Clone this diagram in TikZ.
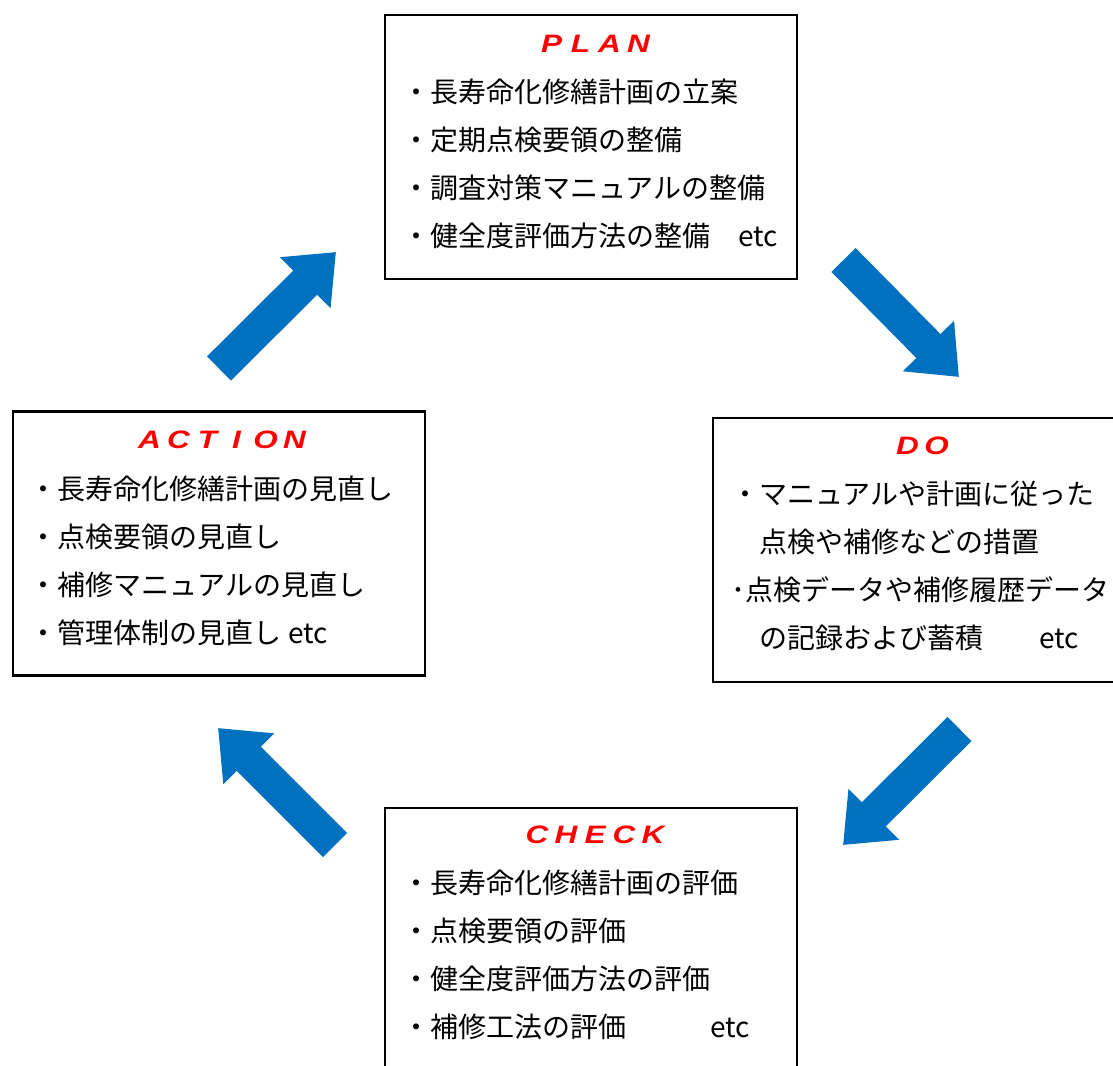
\documentclass[tikz,border=0pt]{standalone}
\usepackage{fontspec}
\setmainfont{Noto Sans CJK JP}
\newfontfamily\titlefont{Liberation Sans}
\usetikzlibrary{arrows.meta}
\definecolor{arrowblue}{RGB}{0,112,192}
\newcommand{\spletter}[1]{\makebox[14.5pt]{\scalebox{1.25}[1]{#1}}}
\tikzset{
  box/.style={draw, line width=1.25pt, minimum width=206pt, minimum height=132pt, inner sep=0pt},
  phase/.style={text=red, inner sep=0pt, font=\titlefont\bfseries\itshape\fontsize{12.6pt}{14pt}\selectfont},
  items/.style={anchor=north west, align=left, inner sep=0pt, font=\fontsize{14pt}{24pt}\selectfont},
  bigarrow/.style={arrowblue, line width=17pt, -{Triangle[length=21.75pt,width=34.5pt]}}
}
\begin{document}
\begin{tikzpicture}[x=0.5pt,y=-0.5pt]
    \clip (0,0) rectangle (1113,1065);

    % the four boxes
    \node[box] (plan)   at (591,147)   {};
    \node[box] (do)     at (919,550)   {};
    \node[box] (check)  at (591,940)   {};
    \node[box] (action) at (219,543.5) {};

    \node[phase] (plantitle)   at (595,44)  {\spletter{P}\spletter{L}\spletter{A}\spletter{N}};
    \node[phase] (dotitle)     at (922,446) {\spletter{D}\spletter{O}};
    \node[phase] (checktitle)  at (595,835) {\spletter{C}\spletter{H}\spletter{E}\spletter{C}\spletter{K}};
    \node[phase] (actiontitle) at (222,440) {\spletter{A}\spletter{C}\spletter{T}\spletter{I}\spletter{O}\spletter{N}};

    \node[items] (planitems) at (402,79) {・長寿命化修繕計画の立案\\・定期点検要領の整備\\・調査対策マニュアルの整備\\・健全度評価方法の整備　etc};
    \node[items] (doitems) at (731,481) {・マニュアルや計画に従った\\　点検や補修などの措置\\･点検データや補修履歴データ\\　の記録および蓄積　　etc};
    \node[items] (checkitems) at (402,870) {・長寿命化修繕計画の評価\\・点検要領の評価\\・健全度評価方法の評価\\・補修工法の評価　　　etc};
    \node[items] (actionitems) at (29.5,475) {・長寿命化修繕計画の見直し\\・点検要領の見直し\\・補修マニュアルの見直し\\・管理体制の見直し etc};

    % cycle arrows
    \coordinate (a1s) at (219,368.5);  \coordinate (a1e) at (336,252);
    \coordinate (a2s) at (843.5,260);  \coordinate (a2e) at (959,377);
    \coordinate (a3s) at (959.5,729);  \coordinate (a3e) at (843,845);
    \coordinate (a4s) at (335,845);    \coordinate (a4e) at (218,728);
    \draw[bigarrow] (a1s) -- (a1e);
    \draw[bigarrow] (a2s) -- (a2e);
    \draw[bigarrow] (a3s) -- (a3e);
    \draw[bigarrow] (a4s) -- (a4e);
\end{tikzpicture}
\end{document}
